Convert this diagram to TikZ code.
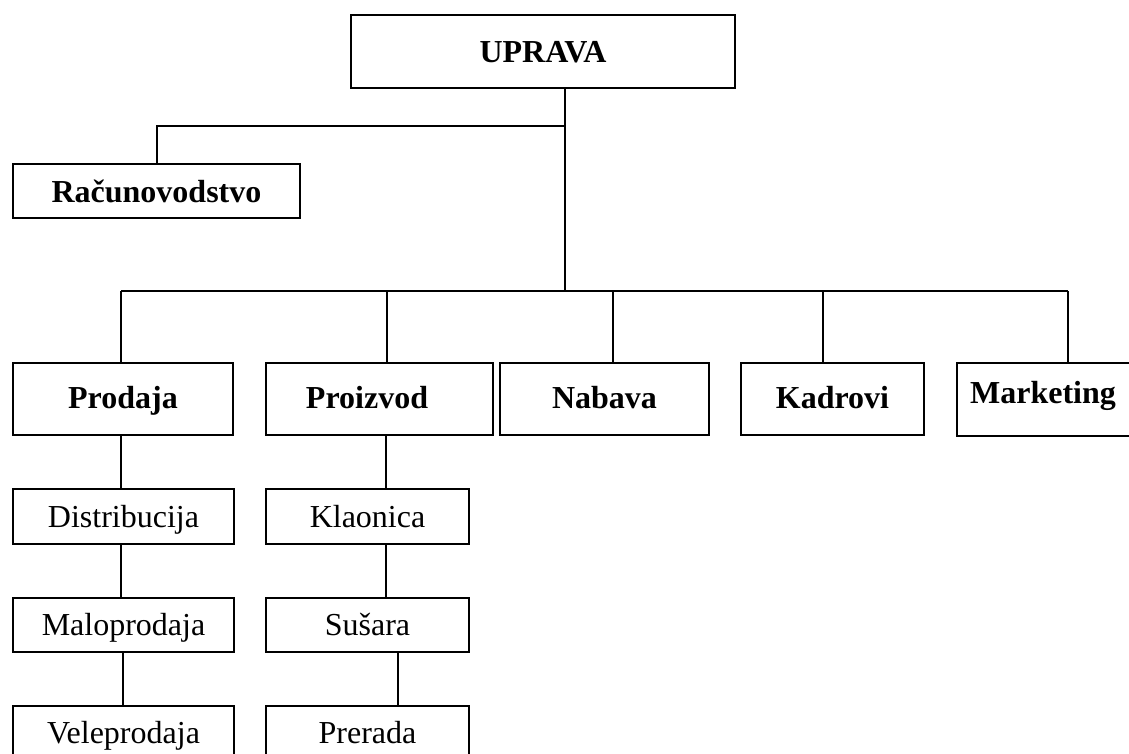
\documentclass[tikz,border=0pt]{standalone}
\usepackage{fontspec}
\setmainfont{Liberation Serif}
\begin{document}
\begin{tikzpicture}[x=1pt,y=-1pt,
  box/.style={draw, line width=1.8pt, inner sep=0pt, anchor=center,
    font=\fontsize{32}{38}\selectfont},
  boldbox/.style={box, font=\fontsize{32}{38}\selectfont\bfseries, text height=24pt, text depth=2pt},
  midbox/.style={box, font=\fontsize{32}{38}\selectfont\bfseries, text height=22pt, text depth=4pt, minimum height=72pt},
  subbox/.style={box, text height=23pt, text depth=2pt, minimum height=54.5pt},
  trunkline/.style={line width=2pt},
  dropline/.style={line width=1.4pt}]
\useasboundingbox (0,0) rectangle (1129,753);
\fill[white] (0,0) rectangle (1129,753);

% top
\node[boldbox, minimum width=384pt, minimum height=73pt] (upr) at (543,51.5) {UPRAVA};
\node[boldbox, minimum width=287pt, minimum height=54pt] (rac) at (156.5,191) {Računovodstvo};

% second level
\node[midbox, minimum width=220pt] (prod) at (123,399) {Prodaja};
\node[midbox, minimum width=227pt] (proi) at (379.5,399) {Proizvod\kern25pt};
\node[midbox, minimum width=209pt] (nab) at (604.5,399) {Nabava};
\node[midbox, minimum width=183pt] (kad) at (832.5,399) {Kadrovi};
\node[box, font=\fontsize{32}{38}\selectfont\bfseries, text height=24pt, text depth=17pt,
  minimum width=186pt, minimum height=73pt] (mark) at (1050,399.5) {Marketing\kern14pt};

% third level
\node[subbox, minimum width=221pt] (dist) at (123.5,516.5) {Distribucija};
\node[subbox, minimum width=221pt] (malo) at (123.5,625) {Maloprodaja};
\node[subbox, minimum width=221pt] (vele) at (123.5,733) {Veleprodaja};
\node[subbox, minimum width=203pt] (klao) at (367.5,516.5) {Klaonica};
\node[subbox, minimum width=203pt] (susa) at (367.5,625) {Sušara};
\node[subbox, minimum width=203pt] (prer) at (367.5,733) {Prerada};

% connector coordinates
\coordinate (trunk) at (565,291);
\coordinate (j1) at (565,126);
\coordinate (b1) at (121,291);
\coordinate (b2) at (387,291);
\coordinate (b3) at (613,291);
\coordinate (b4) at (823,291);
\coordinate (b5) at (1068,291);
\coordinate (xa) at (121,0);
\coordinate (xb) at (123,0);
\coordinate (xc) at (386,0);
\coordinate (xd) at (398,0);

% upper connectors
\draw[trunkline] (upr.south -| trunk) -- (trunk);
\draw[trunkline] (j1) -| (rac.north);
\draw[trunkline] (b1) -- (b5);
\draw[dropline] (b1) -- (b1 |- prod.north);
\draw[dropline] (b2) -- (b2 |- proi.north);
\draw[dropline] (b3) -- (b3 |- nab.north);
\draw[dropline] (b4) -- (b4 |- kad.north);
\draw[dropline] (b5) -- (b5 |- mark.north);

% lower connectors
\draw[dropline] (xa |- prod.south) -- (xa |- dist.north);
\draw[dropline] (xa |- dist.south) -- (xa |- malo.north);
\draw[dropline] (xb |- malo.south) -- (xb |- vele.north);
\draw[dropline] (xc |- proi.south) -- (xc |- klao.north);
\draw[dropline] (xc |- klao.south) -- (xc |- susa.north);
\draw[dropline] (xd |- susa.south) -- (xd |- prer.north);
\end{tikzpicture}
\end{document}
